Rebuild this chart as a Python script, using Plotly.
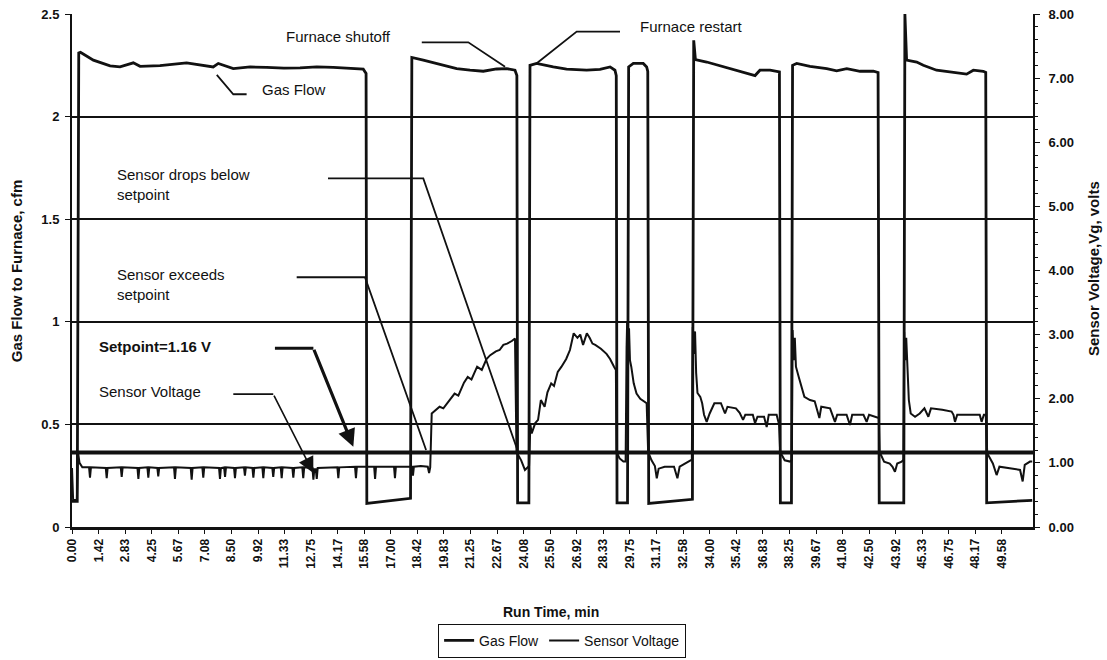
import plotly.graph_objects as go

# ---- data -------------------------------------------------------------
# Gas flow to furnace (cfm) vs run time (min)
GAS_T = [0.00, 0.28, 0.36, 0.45, 0.60, 1.14, 2.03, 2.56, 3.27, 3.63, 4.69, 5.40,
         6.11, 7.53, 7.80, 8.60, 9.50, 10.38, 11.30, 12.16, 13.05, 13.93, 14.80,
         15.53, 15.68, 15.72, 18.05, 18.12, 18.73, 19.44, 20.51, 21.22, 21.93,
         22.64, 23.18, 23.62, 23.72, 23.76, 24.36, 24.42, 24.77, 25.66, 26.37,
         27.44, 28.15, 28.69, 28.95, 29.02, 29.06, 29.62, 29.68, 29.93, 30.46,
         30.64, 30.70, 30.75, 33.08, 33.15, 33.24, 33.84, 34.73, 35.62, 36.42,
         36.68, 37.22, 37.72, 37.77, 38.36, 38.42, 38.64, 39.35, 40.24, 40.77,
         41.31, 42.02, 42.73, 42.98, 43.04, 44.35, 44.41, 44.50, 45.04, 45.39,
         46.10, 46.81, 47.70, 48.06, 48.59, 48.72, 48.77, 51.20]
GAS_CFM = [0.125, 0.125, 2.31, 2.313, 2.305, 2.275, 2.247, 2.242, 2.262, 2.245, 2.248, 2.255,
           2.262, 2.242, 2.259, 2.234, 2.242, 2.240, 2.236, 2.237, 2.242, 2.240, 2.236,
           2.231, 2.21, 0.115, 0.14, 2.288, 2.275, 2.259, 2.234, 2.226, 2.221,
           2.232, 2.234, 2.226, 2.20, 0.118, 0.118, 2.25, 2.259, 2.242, 2.231,
           2.226, 2.230, 2.242, 2.226, 2.20, 0.118, 0.118, 2.242, 2.259, 2.259,
           2.242, 2.22, 0.115, 0.135, 2.372, 2.278, 2.266, 2.242, 2.221, 2.200,
           2.226, 2.226, 2.218, 0.118, 0.118, 2.25, 2.259, 2.245, 2.234, 2.223,
           2.234, 2.221, 2.221, 2.215, 0.118, 0.118, 2.50, 2.275, 2.266, 2.25,
           2.226, 2.218, 2.207, 2.226, 2.221, 2.215, 0.118, 0.13]

# Sensor voltage Vg (volts) vs run time (min)
SENSOR_T = [0.00, 0.06, 0.26, 0.32, 0.40, 0.55,
            0.91, 0.96, 1.01, 1.80, 1.85, 1.90, 2.60, 2.65, 2.70, 3.49, 3.54, 3.59,
            4.02, 4.07, 4.12, 4.55, 4.60, 4.65, 5.44, 5.49, 5.54, 6.33, 6.38, 6.43,
            6.95, 7.00, 7.05, 7.84, 7.89, 7.94, 8.11, 8.16, 8.21, 8.64, 8.69, 8.74,
            9.17, 9.22, 9.27, 9.62, 9.67, 9.72, 10.15, 10.20, 10.25, 10.68, 10.73, 10.78,
            11.13, 11.18, 11.23, 11.75, 11.80, 11.85, 12.28, 12.33, 12.38,
            12.82, 12.87, 12.92, 13.00, 13.05, 13.10, 14.15, 14.20, 14.25,
            15.09, 15.14, 15.19, 16.11, 16.16, 16.21, 17.17, 17.22, 17.27,
            18.13, 18.18, 18.23, 18.60, 18.97, 19.04, 19.10, 19.18, 19.30, 19.60,
            19.80, 20.20, 20.40, 20.60, 20.90, 21.10, 21.30, 21.60, 21.85, 22.10,
            22.30, 22.60, 22.80, 23.00, 23.20, 23.45, 23.62, 23.70, 23.95, 24.15,
            24.37, 24.44, 24.51, 24.70, 24.85, 25.00, 25.10, 25.20, 25.35, 25.55,
            25.70, 25.90, 26.10, 26.35, 26.55, 26.75, 26.95, 27.10, 27.25, 27.45,
            27.60, 27.75, 27.90, 28.20, 28.50, 28.69, 28.90, 29.00, 29.03, 29.20,
            29.40, 29.52, 29.57, 29.60, 29.65, 29.70, 29.75, 29.82, 29.95, 30.10,
            30.30, 30.50, 30.64, 30.72, 30.90, 31.08, 31.18, 31.28, 31.60, 32.10,
            32.28, 32.40, 32.70, 32.95, 33.05, 33.10, 33.16, 33.22, 33.28, 33.35,
            33.50, 33.60, 33.70, 33.84, 34.00, 34.25, 34.60, 34.82, 34.95, 35.40,
            35.60, 35.78, 35.90, 36.30, 36.42, 36.55, 36.90, 37.04, 37.15, 37.57,
            37.70, 37.76, 38.00, 38.28, 38.38, 38.42, 38.48, 38.54, 38.60, 38.75,
            38.88, 39.05, 39.35, 39.60, 39.85, 39.95, 40.42, 40.68, 40.80, 41.30,
            41.48, 41.60, 42.20, 42.37, 42.50, 42.90, 43.02, 43.06, 43.30, 43.60,
            43.75, 43.88, 44.00, 44.24, 44.33, 44.37, 44.42, 44.48, 44.54, 44.62,
            44.72, 44.95, 45.20, 45.45, 45.66, 45.80, 46.40, 46.90, 47.00, 47.08,
            47.20, 48.40, 48.50, 48.62, 48.72, 48.80, 49.10, 49.30, 49.45, 49.90,
            50.55, 50.69, 50.80, 51.08, 51.20]
SENSOR_V = [0.92, 0.42, 0.42, 1.17, 1.00, 0.93,
            0.93, 0.77, 0.93, 0.92, 0.76, 0.92, 0.93, 0.78, 0.93, 0.92, 0.75, 0.92,
            0.93, 0.77, 0.93, 0.92, 0.79, 0.92, 0.93, 0.75, 0.93, 0.92, 0.74, 0.92,
            0.93, 0.77, 0.93, 0.92, 0.75, 0.92, 0.93, 0.78, 0.93, 0.92, 0.76, 0.92,
            0.93, 0.80, 0.93, 0.92, 0.77, 0.92, 0.93, 0.76, 0.93, 0.92, 0.78, 0.92,
            0.93, 0.76, 0.93, 0.92, 0.77, 0.92, 0.93, 0.76, 0.93,
            0.92, 0.74, 0.90, 0.90, 0.75, 0.92, 0.93, 0.76, 0.93,
            0.94, 0.76, 0.94, 0.94, 0.75, 0.94, 0.94, 0.76, 0.94,
            0.94, 0.80, 0.94, 0.95, 0.94, 0.84, 0.93, 1.77, 1.80, 1.875,
            1.85, 2.00, 2.08, 2.05, 2.25, 2.34, 2.30, 2.50, 2.45, 2.62,
            2.68, 2.74, 2.76, 2.84, 2.86, 2.90, 2.94, 1.17, 1.04, 0.89,
            0.95, 1.60, 1.46, 1.62, 1.67, 1.98, 1.93, 1.875, 2.10, 2.24,
            2.20, 2.42, 2.50, 2.62, 2.76, 3.02, 2.95, 3.00, 2.84, 3.02,
            2.95, 2.86, 2.84, 2.78, 2.70, 2.62, 2.50, 2.45, 1.17, 1.07,
            1.02, 1.02, 2.80, 3.20, 2.70, 3.10, 2.60, 2.50, 2.24, 2.08,
            2.00, 1.95, 1.93, 1.17, 1.04, 0.95, 0.76, 0.91, 0.94, 0.94,
            0.76, 0.94, 0.99, 1.02, 1.05, 3.12, 2.70, 3.05, 2.40, 2.09,
            2.03, 1.93, 1.75, 1.64, 1.77, 1.93, 1.93, 1.77, 1.875, 1.85,
            1.78, 1.67, 1.75, 1.75, 1.62, 1.72, 1.72, 1.56, 1.75, 1.75,
            1.60, 1.17, 1.04, 1.02, 1.05, 3.07, 2.60, 2.95, 2.50, 2.34,
            2.19, 2.03, 1.98, 1.96, 1.70, 1.875, 1.85, 1.64, 1.75, 1.75,
            1.59, 1.75, 1.75, 1.64, 1.75, 1.72, 1.70, 1.17, 1.02, 0.99,
            0.94, 0.86, 0.99, 1.02, 1.05, 3.04, 2.60, 2.95, 2.40, 1.98,
            1.77, 1.72, 1.77, 1.85, 1.72, 1.85, 1.83, 1.80, 1.75, 1.64,
            1.75, 1.75, 1.64, 1.75, 1.75, 1.15, 0.99, 0.81, 0.94, 0.92,
            0.89, 0.71, 0.97, 1.02, 1.02]

SETPOINT_V = 1.16

TICK_LABELS = ["0.00", "1.42", "2.83", "4.25", "5.67", "7.08", "8.50", "9.92",
               "11.33", "12.75", "14.17", "15.58", "17.00", "18.42", "19.83",
               "21.25", "22.67", "24.08", "25.50", "26.92", "28.33", "29.75",
               "31.17", "32.58", "34.00", "35.42", "36.83", "38.25", "39.67",
               "41.08", "42.50", "43.92", "45.33", "46.75", "48.17", "49.58"]
LEFT_TICKS = [0, 0.5, 1, 1.5, 2, 2.5]
LEFT_LABELS = ["0", "0.5", "1", "1.5", "2", "2.5"]

# ---- figure -------------------------------------------------------------
FONT = "Liberation Sans, Arial, sans-serif"
INK = "#111111"

fig = go.Figure()
fig.add_trace(go.Scatter(x=GAS_T, y=GAS_CFM, mode="lines", name="Gas Flow",
                         line=dict(color=INK, width=2.8), yaxis="y"))
fig.add_trace(go.Scatter(x=SENSOR_T, y=SENSOR_V, mode="lines", name="Sensor Voltage",
                         line=dict(color=INK, width=2), yaxis="y2"))

shapes = [
    # setpoint reference line (right axis)
    dict(type="line", xref="paper", x0=0, x1=1, yref="y2", y0=SETPOINT_V, y1=SETPOINT_V,
         line=dict(color=INK, width=4)),
]

# leader lines for callouts (data coordinates)
leaders = [
    [(18.65, 2.362), (21.13, 2.362), (23.09, 2.243)],   # Furnace shutoff
    [(29.22, 2.414), (26.91, 2.414), (24.78, 2.260)],   # Furnace restart
    [(9.31, 2.109), (8.60, 2.109), (7.72, 2.203)],      # Gas Flow
    [(13.65, 1.699), (18.73, 1.699), (23.73, 0.380)],   # Sensor drops below setpoint
    [(11.98, 1.217), (15.62, 1.217), (18.88, 0.375)],   # Sensor exceeds setpoint
    [(8.60, 0.648), (10.73, 0.648)],                    # Sensor Voltage
]
for pts in leaders:
    path = "M " + " L ".join(f"{x},{y}" for x, y in pts)
    shapes.append(dict(type="path", path=path, xref="x", yref="y",
                       line=dict(color=INK, width=1.8)))
shapes.append(dict(type="line", xref="x", yref="y", x0=10.82, y0=0.871, x1=12.87, y1=0.871,
                   line=dict(color=INK, width=3.2)))

txt = dict(family=FONT, size=15, color=INK)
annotations = [
    dict(x=14.21, y=2.388, text="Furnace shutoff", xanchor="center"),
    dict(x=33.03, y=2.438, text="Furnace restart", xanchor="center"),
    dict(x=11.83, y=2.133, text="Gas Flow", xanchor="center"),
    dict(x=2.29, y=1.667, text="Sensor drops below<br>setpoint", xanchor="left", align="left"),
    dict(x=2.29, y=1.182, text="Sensor exceeds<br>setpoint", xanchor="left", align="left"),
    dict(x=1.32, y=0.879, text="<b>Setpoint=1.16 V</b>", xanchor="left"),
    dict(x=1.32, y=0.659, text="Sensor Voltage", xanchor="left"),
]
for a in annotations:
    a.update(xref="x", yref="y", yanchor="middle", showarrow=False, font=txt)

# arrow heads
annotations.append(dict(x=15.0, y=0.391, ax=12.87, ay=0.871, xref="x", yref="y",
                        axref="x", ayref="y", text="", showarrow=True, arrowhead=2,
                        arrowsize=1.1, arrowwidth=3.2, arrowcolor=INK, standoff=0))
annotations.append(dict(x=12.87, y=0.263, ax=10.73, ay=0.648, xref="x", yref="y",
                        axref="x", ayref="y", text="", showarrow=True, arrowhead=2,
                        arrowsize=2, arrowwidth=1.6, arrowcolor=INK, standoff=0))

# axis titles
title_font = dict(family=FONT, size=15, color=INK, weight="bold")
annotations += [
    dict(xref="paper", yref="paper", x=-0.058, y=0.499, text="Gas Flow to Furnace, cfm",
         textangle=-90, showarrow=False, font=title_font, xanchor="center", yanchor="middle"),
    dict(xref="paper", yref="paper", x=1.0635, y=0.503, text="Sensor Voltage,Vg, volts",
         textangle=-90, showarrow=False, font=title_font, xanchor="center", yanchor="middle"),
    dict(xref="paper", yref="paper", x=0.4984, y=-0.166, text="Run Time, min",
         showarrow=False, font=dict(family=FONT, size=14, color=INK, weight="bold"),
         xanchor="center", yanchor="middle"),
]

tick_font = dict(family=FONT, size=13, color=INK, weight="bold")

fig.update_layout(
    width=1107, height=660,
    margin=dict(l=72, r=74, t=14, b=133, autoexpand=False),
    paper_bgcolor="white", plot_bgcolor="white",
    showlegend=True,
    legend=dict(orientation="h", x=0.51, xanchor="center", y=-0.255, yanchor="bottom",
                bordercolor=INK, borderwidth=1, font=dict(family=FONT, size=14, color=INK),
                itemwidth=30, tracegroupgap=0),
    xaxis=dict(range=[0, 51.24], tickvals=[float(s) for s in TICK_LABELS],
               ticktext=TICK_LABELS, tickangle=-90,
               tickfont=dict(family=FONT, size=12, color=INK, weight="bold"),
               showline=True, linewidth=3, linecolor=INK, ticks="outside", ticklen=4,
               tickcolor=INK, showgrid=False, zeroline=False),
    yaxis=dict(range=[0, 2.5], tickvals=LEFT_TICKS, ticktext=LEFT_LABELS,
               tickfont=tick_font, showline=True, linewidth=2, linecolor=INK,
               ticks="outside", ticklen=5, tickcolor=INK, showgrid=True,
               gridcolor=INK, gridwidth=1.5, zeroline=False, ticklabelstandoff=3),
    yaxis2=dict(range=[0, 8], dtick=1, tickformat=".2f", overlaying="y", side="right",
                tickfont=tick_font, showline=True, linewidth=2, linecolor=INK,
                ticks="outside", ticklen=5, tickcolor=INK, showgrid=False, zeroline=False,
                ticklabelstandoff=6,
                minor=dict(dtick=0.2, ticks="outside", ticklen=3, tickcolor=INK)),
    shapes=shapes,
    annotations=annotations,
)

fig.write_html("out.html")
